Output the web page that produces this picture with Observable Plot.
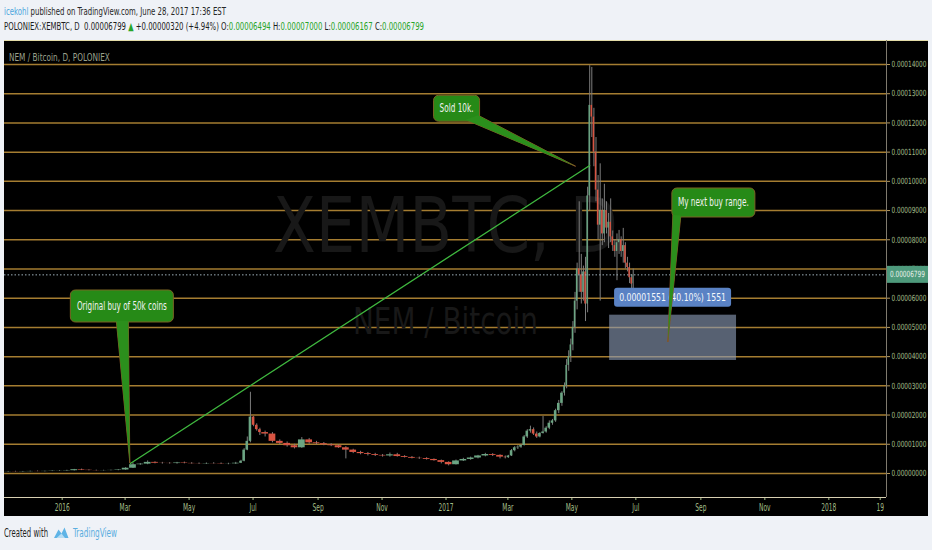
<!DOCTYPE html>
<html>
<head>
<meta charset="utf-8">
<script src="https://cdn.jsdelivr.net/npm/d3@7"></script>
<script src="https://cdn.jsdelivr.net/npm/@observablehq/plot@0.6"></script>
<style>
html,body{margin:0;padding:0;}
body{background:#eff2f7;width:932px;height:550px;overflow:hidden;position:relative;
  font-family:"Liberation Sans Narrow","DejaVu Sans Condensed","Noto Sans",sans-serif;}
.line{position:absolute;left:4px;white-space:nowrap;transform-origin:0 50%;display:inline-block;}
#l1{top:5px;font-size:11px;color:#262626;}
#l2{top:20px;font-size:11px;color:#1c1c1c;}
.g{color:#27a527;}
#chart{position:absolute;left:4px;top:40px;width:924px;height:476px;background:#000;}
#cw{position:absolute;left:4px;top:526px;font-size:12px;color:#1e1e1e;white-space:nowrap;transform-origin:0 50%;}
#logo{position:absolute;left:53px;top:526px;}
#tv{position:absolute;left:73px;top:526px;font-size:12px;color:#5aaee0;white-space:nowrap;transform-origin:0 50%;}
</style>
</head>
<body>
<div id="l1" class="line"></div>
<div id="l2" class="line"></div>
<div id="chart"></div>
<span id="cw">Created with</span>
<svg id="logo" width="16" height="13" viewBox="0 0 16 13"><path d="M1 12 L5.5 3.5 L8.5 7.5 L11.5 1.5 L15.5 12 Z" fill="#5fb4e6"/><path d="M3.5 12 L8.5 7.5 L12 12Z" fill="#ffffff" opacity="0.55"/></svg>
<span id="tv">TradingView</span>
<script>
const FONT = '"Liberation Sans Narrow","DejaVu Sans Condensed","Noto Sans",sans-serif';

// ---- data (prices in satoshi, 1e-8 BTC) ----
const yTicks = [0,1000,2000,3000,4000,5000,6000,7000,8000,9000,10000,11000,12000,13000,14000];
const xTickDates = ["2016-01-01","2016-03-01","2016-05-01","2016-07-01","2016-09-01","2016-11-01","2017-01-01","2017-03-01","2017-05-01","2017-07-01","2017-09-01","2017-11-01","2018-01-01","2018-02-19"];
const xTickLabels = ["2016","Mar","May","Jul","Sep","Nov","2017","Mar","May","Jul","Sep","Nov","2018","19"];

const candleDates = [
"2015-11-07","2015-11-14","2015-11-21","2015-11-28","2015-12-05","2015-12-12","2015-12-19","2015-12-26",
"2016-01-02","2016-01-09","2016-01-16","2016-01-23","2016-01-30","2016-02-06","2016-02-13","2016-02-20","2016-02-27",
"2016-03-05","2016-03-12","2016-03-19","2016-03-26","2016-04-02","2016-04-09","2016-04-16","2016-04-23","2016-04-30",
"2016-05-07","2016-05-14","2016-05-21","2016-05-28","2016-06-04","2016-06-11","2016-06-18","2016-06-21","2016-06-24","2016-06-27","2016-06-30","2016-07-03","2016-07-06",
"2016-07-09","2016-07-16","2016-07-23","2016-07-30","2016-08-06","2016-08-13","2016-08-20","2016-08-27",
"2016-09-03","2016-09-10","2016-09-17","2016-09-24","2016-10-01","2016-10-08","2016-10-15","2016-10-22","2016-10-29",
"2016-11-05","2016-11-12","2016-11-19","2016-11-26","2016-12-03","2016-12-10","2016-12-17","2016-12-24","2016-12-31",
"2017-01-07","2017-01-14","2017-01-21","2017-01-28","2017-02-04","2017-02-11","2017-02-18",
"2017-02-25","2017-02-28","2017-03-03","2017-03-06","2017-03-09","2017-03-12","2017-03-15","2017-03-18","2017-03-21",
"2017-03-24","2017-03-27","2017-03-30","2017-04-02","2017-04-05","2017-04-08","2017-04-11","2017-04-14","2017-04-17","2017-04-20",
"2017-04-23","2017-04-25","2017-04-27","2017-04-29","2017-05-01","2017-05-03","2017-05-05","2017-05-07","2017-05-09",
"2017-05-11","2017-05-13","2017-05-15","2017-05-17","2017-05-19","2017-05-21","2017-05-23","2017-05-25","2017-05-27",
"2017-05-29","2017-05-31","2017-06-02","2017-06-04","2017-06-06","2017-06-08","2017-06-10","2017-06-12","2017-06-14",
"2017-06-16","2017-06-18","2017-06-20","2017-06-22","2017-06-24","2017-06-26","2017-06-28"];
const open = [
55,60,55,62,70,65,72,80,
85,95,130,110,100,95,100,105,120,
180,300,320,380,350,345,340,360,345,
335,330,340,335,325,330,350,420,800,1100,1930,1650,1500,
1400,1350,1100,1030,950,880,1150,1050,
1020,980,950,880,800,720,680,650,620,
600,640,580,550,520,510,480,440,380,
300,430,480,530,600,650,620,
560,540,600,780,880,900,960,1250,1450,
1500,1350,1250,1370,1420,1550,1720,1800,2150,2400,
2750,3000,3700,4000,4400,5000,5900,7000,6800,
6200,6900,5800,9500,12600,12200,11000,9700,8500,
9000,8200,9000,8400,8600,8100,7800,7600,7900,
8000,7600,7800,7200,7050,6700,6494];
const close = [
60,55,62,70,65,72,80,85,
95,130,110,100,95,100,105,120,180,
300,320,380,350,345,340,360,345,335,
330,340,335,325,330,350,420,800,1100,1930,1650,1500,1400,
1350,1100,1030,950,880,1150,1050,1020,
980,950,880,800,720,680,650,620,600,
640,580,550,520,510,480,440,380,300,
430,480,530,600,650,620,560,
540,600,780,880,900,960,1250,1450,1500,
1350,1250,1370,1420,1550,1720,1800,2150,2400,2750,
3000,3700,4000,4400,5000,5900,7000,6800,6200,
6900,5800,9500,12600,12200,11000,9700,8500,9000,
8200,9000,8400,8600,8100,7800,7600,7900,8000,
7600,7800,7200,7050,6700,6479,6799];
const high = [
70,75,70,80,85,80,90,95,
110,140,150,125,115,110,115,130,200,
360,340,430,400,380,370,380,390,370,
360,360,370,360,350,380,450,850,1250,2780,1950,1700,1550,
1450,1400,1150,1080,1000,1230,1200,1100,
1060,1020,980,920,830,760,720,690,650,
700,690,610,580,560,540,500,460,400,
460,520,560,620,690,680,640,
600,620,820,920,950,1000,1300,1500,1620,
1560,1420,1400,1950,1600,1800,1850,2200,2500,2800,
3100,3900,4200,4600,5200,6200,7200,9300,7500,
7100,7400,9800,13960,13900,12500,11500,10200,10600,
9400,9900,9300,8900,9400,8300,8000,8200,8320,
8100,8390,7900,7400,7200,6800,7000];
const low = [
45,50,45,55,60,55,65,70,
75,85,100,90,85,85,90,95,110,
170,280,300,330,320,320,320,330,320,
310,310,320,310,300,310,340,400,780,1050,1600,1450,1300,
1250,1050,980,900,840,860,1000,980,
950,920,860,500,680,640,600,580,560,
560,560,530,500,480,460,420,330,260,
290,410,450,500,570,580,500,
500,520,580,740,820,860,940,1200,1380,
1300,1200,1220,1350,1380,1500,1650,1750,2050,2300,
2650,2900,3500,3800,4200,4800,5600,6200,5800,
5900,5200,5500,9000,11500,10500,9300,8000,5900,
7800,7900,8200,7700,7900,7600,7400,6600,7500,
7400,7200,7000,6900,6500,6200,6167];

const trendDates = ["2016-03-06","2017-05-18"];
const trendValues = [342, 10543];
const rangeDates = ["2017-06-06","2017-10-05"];
const rangeValues = [3868, 5419];
const calloutTexts = ["Original buy of 50k coins","Sold 10k.","My next buy range."];
const calloutDates = ["2016-03-06","2017-05-05","2017-08-01"];
const calloutValues = [342, 10500, 4484];

// ---- derived ----
const fmt = v => (v / 1e8).toFixed(8);
const n = candleDates.length;
const candles = candleDates.map((d, i) => {
  const start = new Date(d);
  const end = i + 1 < n ? new Date(candleDates[i + 1]) : d3.utcDay.offset(start, 1);
  return {start, end, mid: new Date((+start + +end) / 2), o: open[i], h: high[i], l: low[i], c: close[i]};
});
const last = candles[n - 1], prev = candles[n - 2];
const lastClose = last.c;
const trend = trendDates.map((d, i) => ({date: new Date(d), value: trendValues[i]}));
const range = [{start: new Date(rangeDates[0]), end: new Date(rangeDates[1]), low: rangeValues[0], high: rangeValues[1]}];
const labelOf = new Map(xTickDates.map((d, i) => [+new Date(d), xTickLabels[i]]));
const bodyFill = d => d.c >= d.o ? "#6ba583" : "#d75442";

// ---- header ----
const chg = last.c - prev.c;
document.getElementById("l1").innerHTML = '<span style="color:#4da6dd">icekohl</span> published on TradingView.com, June 28, 2017 17:36 EST';
document.getElementById("l2").innerHTML =
  'POLONIEX:XEMBTC, D&nbsp; ' + fmt(last.c) + ' <span class="g">▲</span> +' + fmt(chg) +
  ' (+' + (chg / prev.c * 100).toFixed(2) + '%) O:<span class="g">' + fmt(last.o) +
  '</span> H:<span class="g">' + fmt(last.h) + '</span> L:<span class="g">' + fmt(last.l) +
  '</span> C:<span class="g">' + fmt(last.c) + '</span>';

// ---- plot ----
const plot = Plot.plot({
  width: 924, height: 476,
  marginLeft: 0, marginRight: 42, marginTop: 1, marginBottom: 19,
  style: {background: "#000", color: "#a3bd88", fontFamily: FONT, fontSize: "8.5px", overflow: "visible"},
  x: {type: "utc", domain: [new Date("2015-11-07"), new Date("2018-02-25")], ticks: xTickDates.map(d => new Date(d)),
      tickFormat: d => labelOf.get(+d), tickSize: 3, tickPadding: 3, label: null},
  y: {domain: [-822, 14787], axis: "right", ticks: yTicks, tickFormat: fmt, tickSize: 3, tickPadding: 2, label: null},
  color: {type: "identity"},
  marks: [
    Plot.ruleY(yTicks, {stroke: "#a57d31", strokeWidth: 1.5}),
    Plot.text(["XEMBTC, D"], {frameAnchor: "middle", dy: -42, fontSize: 76, fill: "#181818"}),
    Plot.text(["NEM / Bitcoin"], {frameAnchor: "middle", dy: 53, fontSize: 37, fill: "#181818"}),
    Plot.rect(range, {x1: "start", x2: "end", y1: "low", y2: "high", fill: "#8d9db8", fillOpacity: 0.62}),
    Plot.ruleX(candles, {x: "mid", y1: "l", y2: "h", stroke: "#7d7d7d", strokeWidth: 1}),
    Plot.rect(candles, {x1: "start", x2: "end", y1: "o", y2: "c", fill: bodyFill, insetLeft: 0.3, insetRight: 0.3}),
    Plot.line(trend, {x: "date", y: "value", stroke: "#3fb83f", strokeWidth: 1.3}),
    Plot.ruleY([lastClose], {stroke: "#9db0ba", strokeWidth: 1, strokeDasharray: "1.5,2"})
  ]
});
document.getElementById("chart").appendChild(plot);

const svg = d3.select(plot);
const xs = plot.scale("x"), ys = plot.scale("y");
const X = v => xs.apply(v), Y = v => ys.apply(v);
const xr = xs.range, yr = ys.range;
const right = Math.max(...xr), bottom = Math.max(...yr);

function squeeze(node, k) {
  const x = +node.getAttribute("x") || 0;
  const t = node.getAttribute("transform") || "";
  node.setAttribute("transform", `${t} translate(${x},0) scale(${k},1) translate(${-x},0)`);
}
function fitText(node, target) { squeeze(node, target / node.getComputedTextLength()); }

// axis label styling
const xt = svg.selectAll('[aria-label="x-axis tick label"] text, [aria-label="x-axis"] text').nodes();
xt.forEach(t => t.setAttribute("font-size", "10"));
if (xt.length) { const k = 15 / xt[0].getComputedTextLength(); xt.forEach(t => squeeze(t, k)); }
const yt = svg.selectAll('[aria-label="y-axis tick label"] text, [aria-label="y-axis"] text').nodes();
yt.forEach(t => t.setAttribute("text-anchor", "start"));
if (yt.length) { const k = 35 / yt[0].getComputedTextLength(); yt.forEach(t => squeeze(t, k)); }
svg.selectAll('[aria-label="y-axis tick"] path, [aria-label="y-axis"] line').attr("stroke", "#b89a5c");
svg.selectAll("text").filter(function () { return this.textContent === "XEMBTC, D"; }).each(function () { fitText(this, 345); });
svg.selectAll("text").filter(function () { return this.textContent === "NEM / Bitcoin"; }).each(function () { fitText(this, 185); });

const g = svg.append("g").attr("font-family", FONT);
g.append("line").attr("x1", 0).attr("x2", 924).attr("y1", 0.5).attr("y2", 0.5).attr("stroke", "#e3dca8");
g.append("line").attr("x1", right + 0.5).attr("x2", right + 0.5).attr("y1", 0).attr("y2", bottom).attr("stroke", "#7f7a6e");
g.append("line").attr("x1", 0).attr("x2", right).attr("y1", bottom + 0.5).attr("y2", bottom + 0.5).attr("stroke", "#d8d0b2");

// title in pane
fitText(g.append("text").attr("x", 5).attr("y", 21).attr("text-anchor", "start").attr("font-size", 10.5).attr("fill", "#9aa18c").text("NEM / Bitcoin, D, POLONIEX").node(), 101);

// last price label
const py = Y(lastClose);
g.append("rect").attr("x", right + 1).attr("y", py - 8.5).attr("width", 924 - right - 1).attr("height", 17).attr("fill", "#4e9a7c");
fitText(g.append("text").attr("x", right + 4).attr("y", py + 3).attr("text-anchor", "start").attr("font-size", 8.5).attr("fill", "#e8f0ea").text(fmt(lastClose)).node(), 35);

// range label
const r = range[0];
const rcx = (X(r.start) + X(r.end)) / 2, rtop = Y(r.high);
const diff = r.high - r.low;
g.append("rect").attr("x", rcx - 58.5).attr("y", rtop - 27).attr("width", 117).attr("height", 19).attr("rx", 3).attr("fill", "#5a82c4");
fitText(g.append("text").attr("x", rcx).attr("y", rtop - 13.5).attr("text-anchor", "middle").attr("font-size", 11).attr("fill", "#f4f7fb")
  .text(`${fmt(diff)} (${(diff / r.low * 100).toFixed(2)}%) ${diff}`).node(), 107);

// callouts: box offsets from the tip, in px
const boxes = [
  {bx: -59.5, by: -173, w: 103, h: 32, b1: [-13.5, -142], b2: [-1.5, -142], tw: 90},
  {bx: -142, by: -71, w: 46, h: 26, b1: [-110, -46.5], b2: [-97.5, -51], tw: 34},
  {bx: 4, by: -154, w: 83, h: 29, b1: [5, -127], b2: [13, -126.5], tw: 71}
];
calloutTexts.forEach((txt, i) => {
  const tx = X(new Date(calloutDates[i])), ty = Y(calloutValues[i]);
  const b = boxes[i];
  const pts = [[tx + b.b1[0], ty + b.b1[1]], [tx, ty], [tx + b.b2[0], ty + b.b2[1]]];
  const poly = pts.map(p => p.join(",")).join(" ");
  g.append("polygon").attr("points", poly).attr("fill", "#2b8f1c").attr("stroke", "#8a5326").attr("stroke-width", 1);
  g.append("rect").attr("x", tx + b.bx).attr("y", ty + b.by).attr("width", b.w).attr("height", b.h).attr("rx", 5)
    .attr("fill", "#268a17").attr("stroke", "#7a6424").attr("stroke-width", 1);
  g.append("polygon").attr("points", poly).attr("fill", "#2b8f1c");
  fitText(g.append("text").attr("x", tx + b.bx + b.w / 2).attr("y", ty + b.by + b.h / 2 + 4).attr("text-anchor", "middle")
    .attr("font-size", 11.5).attr("fill", "#f2f2f2").text(txt).node(), b.tw);
});

// fit html text widths
function fitHtml(id, target) { const el = document.getElementById(id); const w = el.getBoundingClientRect().width; el.style.transform = `scaleX(${target / w})`; }
fitHtml("l1", 222); fitHtml("l2", 420); fitHtml("cw", 44); fitHtml("tv", 44);
</script>
</body>
</html>
